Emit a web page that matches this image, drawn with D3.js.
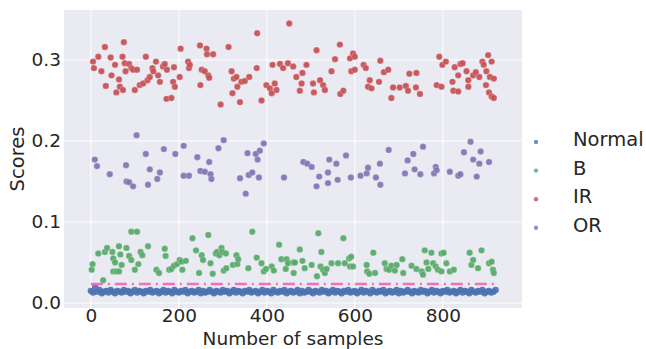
<!DOCTYPE html>
<html><head><meta charset="utf-8">
<script src="https://cdn.jsdelivr.net/npm/d3@7"></script>
<style>body{margin:0;background:#fff}svg{display:block}text{font-family:"DejaVu Sans",sans-serif;fill:#262626}</style>
</head><body>
<svg id="c" width="646" height="349"></svg>
<script>
const categories = ["Normal", "B", "IR", "OR"];
const colors = ["#4c72b0", "#55a868", "#c44e52", "#8172b2"];
const xTicks = [0, 200, 400, 600, 800];
const yTicks = [0.0, 0.1, 0.2, 0.3];
const xTickLabels = ["0", "200", "400", "600", "800"];
const yTickLabels = ["0.0", "0.1", "0.2", "0.3"];
const thresholdValue = 0.0235;
const thresholdRange = [0, 921];

const normalStep = 5;
const normalScore = [
0.015,0.013,0.020,0.014,0.016,0.012,0.014,0.015,0.013,0.016,
0.014,0.012,0.015,0.014,0.013,0.016,0.014,0.015,0.012,0.014,
0.016,0.013,0.015,0.014,0.012,0.015,0.014,0.016,0.013,0.014,
0.015,0.012,0.014,0.016,0.013,0.015,0.014,0.012,0.016,0.014,
0.013,0.015,0.014,0.016,0.012,0.014,0.015,0.013,0.014,0.016,
0.012,0.015,0.013,0.014,0.016,0.014,0.012,0.015,0.014,0.013,
0.016,0.014,0.015,0.012,0.014,0.016,0.013,0.015,0.014,0.012,
0.015,0.014,0.016,0.013,0.014,0.015,0.012,0.014,0.016,0.013,
0.015,0.014,0.012,0.016,0.014,0.013,0.015,0.014,0.016,0.012,
0.014,0.015,0.013,0.014,0.016,0.012,0.015,0.013,0.014,0.016,
0.014,0.012,0.015,0.014,0.013,0.016,0.014,0.015,0.012,0.014,
0.016,0.013,0.015,0.014,0.012,0.015,0.014,0.016,0.013,0.014,
0.015,0.012,0.014,0.016,0.013,0.015,0.014,0.012,0.016,0.014,
0.013,0.015,0.014,0.016,0.012,0.014,0.015,0.013,0.014,0.016,
0.012,0.015,0.013,0.014,0.016,0.014,0.012,0.015,0.014,0.013,
0.016,0.014,0.015,0.012,0.014,0.016,0.013,0.015,0.014,0.012,
0.015,0.014,0.016,0.013,0.014,0.015,0.012,0.014,0.016,0.013,
0.015,0.014,0.012,0.016,0.014,0.013,0.015,0.014,0.016,0.012,
0.014,0.015,0.013,0.014,0.016];

const bIdx = [2,4,17,28,32,37,49,51,55,51,58,64,64,67,70,81,87,92,92,100,105,108,113,117,130,149,155,168,170,178,183,189,196,202,206,216,208,231,239,246,252,255,267,272,277,284,287,292,297,299,302,307,308,323,331,333,335,358,367,377,388,393,398,411,416,428,433,443,445,448,460,
464,461,475,481,486,502,517,514,524,522,528,532,536,547,562,574,577,587,592,589,596,627,628,633,642,646,668,672,678,683,691,695,708,710,729,740,752,755,759,763,767,774,778,784,797,802,789,797,808,816,825,861,865,869,880,888,905,911,914,916];
const bScore = [0.041,0.048,0.061,0.028,0.063,0.068,0.063,0.055,0.050,0.039,0.039,0.039,0.070,0.060,0.047,0.068,0.058,0.053,0.088,0.041,0.088,0.048,0.063,0.059,0.070,0.041,0.037,0.067,0.058,0.041,0.042,0.046,0.048,0.053,0.051,0.052,0.041,0.080,0.065,0.037,0.059,0.053,0.084,0.049,0.036,0.061,0.063,0.059,0.068,0.063,0.040,0.061,0.043,0.047,0.059,0.048,0.054,0.043,0.088,0.056,0.049,0.039,0.042,0.045,0.040,0.072,0.054,0.042,0.054,0.049,0.050,
0.050,0.037,0.066,0.052,0.043,0.047,0.086,0.033,0.063,0.045,0.041,0.037,0.042,0.049,0.049,0.080,0.049,0.055,0.057,0.045,0.045,0.047,0.039,0.036,0.062,0.037,0.049,0.042,0.041,0.046,0.040,0.047,0.054,0.037,0.046,0.042,0.039,0.035,0.065,0.050,0.042,0.062,0.049,0.045,0.061,0.062,0.041,0.039,0.049,0.039,0.041,0.062,0.047,0.053,0.043,0.065,0.049,0.051,0.041,0.037];

const irIdx = [5,7,17,24,32,34,45,47,55,58,64,66,72,73,75,77,79,87,92,96,100,105,111,119,125,129,134,140,142,148,153,157,164,168,172,173,183,187,189,191,202,204,221,223,225,248,249,252,259,263,264,267,269,278,295,313,320,322,325,331,333,339,342,350,360,377,378,388,399,407,411,413,418,422,430,437,451,448,460,
467,481,479,475,490,505,507,513,521,528,532,547,555,566,567,574,589,596,600,592,600,620,625,630,634,638,655,658,666,676,683,687,702,716,721,724,739,740,748,786,792,797,799,807,822,824,827,835,835,840,845,854,858,858,869,875,883,890,893,899,903,907,911,916,905,911,916,898];
const irScore = [0.298,0.290,0.304,0.286,0.316,0.268,0.303,0.281,0.294,0.260,0.276,0.267,0.304,0.263,0.322,0.296,0.286,0.295,0.290,0.288,0.263,0.288,0.269,0.271,0.304,0.275,0.279,0.290,0.286,0.298,0.281,0.273,0.292,0.295,0.252,0.288,0.253,0.273,0.291,0.267,0.279,0.314,0.298,0.290,0.294,0.318,0.269,0.288,0.286,0.314,0.307,0.281,0.278,0.307,0.245,0.316,0.286,0.259,0.277,0.279,0.267,0.248,0.273,0.274,0.279,0.290,0.333,0.250,0.269,0.265,0.259,0.294,0.271,0.263,0.295,0.290,0.345,0.296,0.292,
0.279,0.284,0.271,0.262,0.294,0.271,0.260,0.312,0.275,0.269,0.263,0.286,0.301,0.319,0.258,0.262,0.302,0.308,0.304,0.286,0.288,0.294,0.290,0.267,0.275,0.265,0.273,0.299,0.285,0.288,0.253,0.266,0.266,0.268,0.262,0.283,0.266,0.284,0.258,0.269,0.304,0.267,0.294,0.298,0.273,0.262,0.291,0.281,0.261,0.295,0.296,0.286,0.275,0.267,0.281,0.285,0.279,0.298,0.294,0.286,0.306,0.279,0.298,0.277,0.260,0.255,0.253,0.269];

const orIdx = [9,14,43,80,81,87,96,104,125,130,134,151,157,166,192,211,211,223,242,249,259,269,272,274,290,302,339,352,356,359,367,375,379,382,384,393,439,
483,492,502,519,513,539,539,542,558,561,580,591,613,627,630,648,657,658,677,714,720,733,736,749,755,780,784,786,816,835,840,848,863,869,877,883,886,905];
const orScore = [0.177,0.169,0.159,0.170,0.150,0.149,0.144,0.207,0.184,0.146,0.165,0.153,0.161,0.190,0.184,0.194,0.157,0.157,0.180,0.163,0.162,0.174,0.159,0.153,0.191,0.201,0.154,0.135,0.185,0.158,0.161,0.184,0.177,0.155,0.188,0.197,0.155,
0.174,0.172,0.168,0.156,0.144,0.148,0.161,0.177,0.172,0.152,0.182,0.155,0.157,0.160,0.167,0.155,0.172,0.146,0.189,0.160,0.176,0.184,0.165,0.159,0.193,0.160,0.168,0.164,0.162,0.157,0.159,0.186,0.199,0.177,0.156,0.172,0.187,0.174];

const svg = d3.select("#c");
const L = 64, R = 522, T = 10, B = 308;
const FS = "19.5px";
const TFS = "18.5px";
const x = d3.scaleLinear().domain([-61, 980]).range([L, R]);
const y = d3.scaleLinear().domain([-0.0062, 0.3617]).range([B, T]);

svg.append("rect").attr("x", L).attr("y", T).attr("width", R - L).attr("height", B - T).attr("fill", "#eaeaf2");

const g = svg.append("g");
g.selectAll(".gx").data(xTicks).join("line").attr("x1", d => x(d)).attr("x2", d => x(d)).attr("y1", T).attr("y2", B).attr("stroke", "#fff").attr("stroke-width", 1);
g.selectAll(".gy").data(yTicks).join("line").attr("y1", d => y(d)).attr("y2", d => y(d)).attr("x1", L).attr("x2", R).attr("stroke", "#fff").attr("stroke-width", 1);

const xAxis = d3.axisBottom(x).tickValues(xTicks).tickFormat((d, i) => xTickLabels[i]).tickSize(0).tickPadding(1);
const yAxis = d3.axisLeft(y).tickValues(yTicks).tickFormat((d, i) => yTickLabels[i]).tickSize(0).tickPadding(3);
const ax = svg.append("g").attr("transform", `translate(0,${B})`).call(xAxis);
const ay = svg.append("g").attr("transform", `translate(${L},0)`).call(yAxis);
[ax, ay].forEach(a => { a.select(".domain").remove(); a.selectAll("text").style("font-size", TFS).attr("fill", "#262626"); });

function scatter(idx, score, color, r, edge) {
  svg.append("g").selectAll("circle").data(idx.map((d, i) => [d, score[i]])).join("circle")
    .attr("cx", d => x(d[0])).attr("cy", d => y(d[1])).attr("r", r)
    .attr("fill", color).attr("stroke", edge ? "#fff" : "none").attr("stroke-width", 0.4).attr("stroke-opacity", 0.6).attr("fill-opacity", 0.92);
}
scatter(normalScore.map((d, i) => i * normalStep), normalScore, colors[0], 3.2, false);
scatter(bIdx, bScore, colors[1], 3.2, true);
scatter(irIdx, irScore, colors[2], 3.2, true);
scatter(orIdx, orScore, colors[3], 3.2, true);

svg.append("line").attr("x1", x(thresholdRange[0])).attr("x2", x(thresholdRange[1]))
  .attr("y1", y(thresholdValue)).attr("y2", y(thresholdValue))
  .attr("stroke", "#f76cbb").attr("stroke-width", 2.4).attr("stroke-dasharray", "12,5,2,5");

svg.append("text").attr("x", (L + R) / 2).attr("y", 344.5).attr("text-anchor", "middle").style("font-size", TFS).text("Number of samples");
svg.append("text").attr("transform", `translate(24,${(T + B) / 2}) rotate(-90)`).attr("text-anchor", "middle").style("font-size", FS).text("Scores");

const leg = svg.append("g");
categories.forEach((c, i) => {
  const yy = 139 + i * 28.6;
  leg.append("circle").attr("cx", 536).attr("cy", yy + 3).attr("r", 2.2).attr("fill", colors[i]).attr("fill-opacity", 0.8);
  leg.append("text").attr("x", 573).attr("y", yy).attr("dy", "0.36em").style("font-size", FS).text(c);
});
</script>
</body></html>
